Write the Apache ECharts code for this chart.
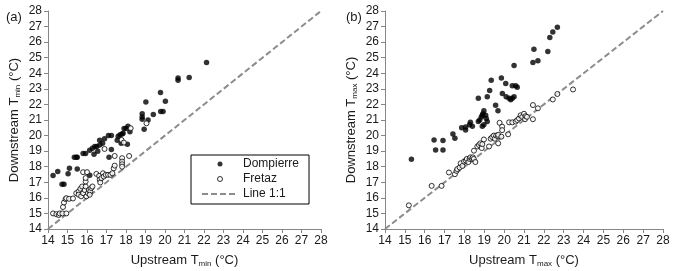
<!DOCTYPE html>
<html>
<head>
<meta charset="utf-8">
<script src="https://cdn.jsdelivr.net/npm/echarts@6/dist/echarts.min.js"></script>
<style>
html,body{margin:0;padding:0;background:#fff;}
#c{width:676px;height:271px;}
</style>
</head>
<body>
<div id="c"></div>
<script>
// ---- Data ----
var axisTicks = [14,15,16,17,18,19,20,21,22,23,24,25,26,27,28];
var lineOneToOne = [[14,14],[28,28]];

// Panel (a): Tmin
var aDompierre = [[14.26,17.43],[14.5,17.7],[14.72,16.88],[14.82,16.88],[15.03,17.55],[15.1,17.9],[15.35,18.6],[15.45,18.6],[15.5,18.6],[15.5,17.85],[15.8,18.85],[15.93,18.85],[16.14,17.45],[16.14,19.05],[16.28,19.18],[16.36,18.8],[16.4,19.3],[16.5,19.3],[16.55,19.0],[16.65,19.4],[16.65,19.7],[16.8,19.5],[16.9,19.8],[17.1,20.0],[17.13,18.6],[17.25,20.0],[17.25,19.1],[17.55,19.7],[17.6,19.95],[17.7,20.05],[17.75,19.5],[17.8,20.1],[17.85,20.15],[17.9,20.45],[18.0,20.45],[18.07,19.45],[18.1,20.6],[18.2,20.25],[18.83,21.4],[18.83,21.2],[18.83,21.05],[18.93,20.4],[19.02,22.15],[19.13,21.0],[19.4,21.35],[19.77,22.77],[19.78,21.55],[19.9,21.55],[20.02,22.2],[20.67,23.7],[20.67,23.55],[21.24,23.73],[22.13,24.7]];
var aFretaz = [[14.26,15.0],[14.43,14.95],[14.55,14.9],[14.6,15.0],[14.74,15.0],[14.94,15.0],[14.77,15.41],[14.82,15.7],[14.9,15.92],[14.94,15.98],[15.08,15.94],[15.28,15.96],[15.45,16.3],[15.57,16.41],[15.66,16.58],[15.75,16.73],[15.57,16.2],[15.7,16.1],[15.8,16.3],[15.88,16.5],[15.93,16.73],[15.93,17.05],[15.93,17.27],[15.97,16.1],[16.05,16.3],[16.1,16.5],[16.17,16.41],[16.22,16.63],[16.28,16.73],[16.14,16.2],[15.8,17.65],[16.0,17.65],[16.48,17.54],[16.62,17.41],[16.65,17.16],[16.68,16.99],[16.74,17.27],[16.82,17.58],[16.86,17.37],[16.96,17.48],[17.08,17.48],[17.2,17.48],[17.3,17.58],[17.37,17.9],[17.42,18.07],[16.9,19.14],[17.42,18.69],[17.8,18.55],[17.8,18.33],[17.8,18.16],[17.8,18.0],[17.77,19.72],[17.89,19.55],[18.16,18.69],[18.24,20.47],[19.05,20.79]];

// Panel (b): Tmax
var bDompierre = [[15.33,18.48],[16.47,19.72],[16.55,19.08],[16.92,19.68],[16.92,19.08],[17.42,20.1],[17.52,19.83],[17.86,20.5],[18.06,20.35],[18.06,20.55],[18.26,20.7],[18.3,20.85],[18.4,20.6],[18.7,22.4],[18.7,20.9],[18.77,21.0],[18.85,21.2],[18.9,21.3],[18.93,21.4],[18.98,21.6],[18.9,20.6],[18.98,20.7],[19.07,21.3],[19.1,21.1],[19.15,20.9],[19.15,22.5],[19.27,22.9],[19.35,23.55],[19.57,21.95],[19.69,21.6],[19.86,23.7],[19.91,22.7],[20.08,23.35],[20.1,22.5],[20.25,22.4],[20.33,22.3],[20.41,22.4],[20.5,22.5],[20.41,23.2],[20.58,23.2],[20.66,23.1],[20.5,24.5],[21.45,24.7],[21.5,25.55],[21.7,24.8],[22.2,25.4],[22.3,26.3],[22.45,26.65],[22.68,26.95]];
var bFretaz = [[15.2,15.52],[16.35,16.77],[16.85,16.77],[17.22,17.63],[17.52,17.52],[17.6,17.73],[17.64,17.85],[17.76,17.95],[17.81,18.22],[17.9,18.05],[17.98,18.33],[18.07,18.4],[18.12,18.5],[18.2,18.3],[18.26,18.5],[18.3,18.6],[18.38,18.5],[18.42,18.6],[18.47,18.5],[18.55,18.3],[18.48,19.03],[18.65,19.3],[18.73,19.4],[18.8,19.5],[18.87,19.2],[18.9,19.45],[18.98,19.75],[19.24,19.3],[19.32,19.8],[19.4,19.9],[19.48,20.0],[19.53,19.8],[19.6,20.0],[19.69,19.95],[19.7,19.5],[19.7,20.05],[19.77,20.82],[19.9,20.57],[19.9,20.35],[19.86,19.93],[20.2,20.08],[20.25,20.85],[20.41,20.85],[20.58,20.9],[20.66,21.0],[20.75,21.1],[20.83,21.3],[20.91,21.2],[21.0,21.4],[21.05,21.05],[21.08,21.25],[21.15,21.2],[21.45,21.96],[21.45,21.05],[21.7,21.75],[22.45,22.32],[22.68,22.67],[23.47,22.96]];

var panelLabels = ['(a)','(b)'];
var seriesNames = ['Dompierre','Fretaz','Line 1:1'];

// ---- Chart ----
var FONT = 'Liberation Sans, Arial, sans-serif';
var AXIS_GRAY = '#868686';
var TXT = '#1a1a1a';

function richName(pre, sub, post){
  return '{m|' + pre + '}{s|' + sub + '}{m|' + post + '}';
}
var nameRich = {
  m: {fontSize: 13, fontFamily: FONT, color: TXT, lineHeight: 16, verticalAlign: 'bottom'},
  s: {fontSize: 8, fontFamily: FONT, color: TXT, lineHeight: 12, verticalAlign: 'bottom', padding: [0,0,-1,0]}
};

function makeXAxis(gi, sub){
  return {
    type: 'value', gridIndex: gi, min: axisTicks[0], max: axisTicks[axisTicks.length-1], interval: 1,
    name: richName('Upstream T', sub, ' (°C)'), nameLocation: 'middle', nameGap: 22,
    nameTextStyle: {rich: nameRich},
    axisLine: {show: true, onZero: false, lineStyle: {color: AXIS_GRAY, width: 1}},
    axisTick: {show: true, length: 4, lineStyle: {color: AXIS_GRAY}},
    axisLabel: {fontSize: 12, fontFamily: FONT, color: TXT, margin: 6},
    splitLine: {show: false}
  };
}
function makeYAxis(gi, sub){
  return {
    type: 'value', gridIndex: gi, min: axisTicks[0], max: axisTicks[axisTicks.length-1], interval: 1,
    name: richName('Downstream T', sub, ' (°C)'), nameLocation: 'middle', nameGap: 27,
    nameTextStyle: {rich: nameRich},
    axisLine: {show: true, onZero: false, lineStyle: {color: AXIS_GRAY, width: 1}},
    axisTick: {show: true, length: 4, lineStyle: {color: AXIS_GRAY}},
    axisLabel: {fontSize: 12, fontFamily: FONT, color: TXT, margin: 6},
    splitLine: {show: false}
  };
}

var filledStyle = {color: '#000', borderColor: '#000', borderWidth: 0};
var openStyle = {color: '#fff', borderColor: '#000', borderWidth: 1};
var lineStyle11 = {color: '#8c8c8c', width: 2, type: [6,3]};

function scatter(name, data, gi, style, size){
  return {
    name: name, type: 'scatter', xAxisIndex: gi, yAxisIndex: gi, data: data,
    symbol: 'circle', symbolSize: size, itemStyle: style, silent: true, animation: false
  };
}
function oneLine(gi){
  return {
    name: seriesNames[2], type: 'line', xAxisIndex: gi, yAxisIndex: gi, data: lineOneToOne,
    showSymbol: false, symbol: 'none', lineStyle: lineStyle11, itemStyle: {color: '#8c8c8c'},
    silent: true, animation: false, z: 1
  };
}

var chart = echarts.init(document.getElementById('c'), null, {renderer: 'canvas'});
chart.setOption({
  animation: false,
  backgroundColor: '#fff',
  textStyle: {fontFamily: FONT},
  title: [
    {text: panelLabels[0], left: 6, top: 11, textStyle: {fontSize: 13, fontWeight: 'normal', color: TXT, fontFamily: FONT}, padding: 0},
    {text: panelLabels[1], left: 346, top: 11, textStyle: {fontSize: 13, fontWeight: 'normal', color: TXT, fontFamily: FONT}, padding: 0}
  ],
  legend: {
    data: [
      {name: seriesNames[0], itemStyle: {color: '#000', borderWidth: 0}},
      {name: seriesNames[1], itemStyle: {color: '#fff', borderColor: '#000', borderWidth: 1}},
      {name: seriesNames[2], itemStyle: {opacity: 0}}
    ],
    orient: 'vertical',
    left: 191, top: 155,
    itemWidth: 36, itemHeight: 5, itemGap: 1,
    padding: [2, 10, 3, 10],
    borderColor: '#000', borderWidth: 1,
    backgroundColor: '#fff',
    textStyle: {fontSize: 12, fontFamily: FONT, color: TXT, lineHeight: 14},
    selectedMode: false
  },
  grid: [
    {left: 48, right: 355, top: 11, bottom: 42, outerBoundsMode: 'none'},
    {left: 385, right: 13, top: 11, bottom: 42, outerBoundsMode: 'none'}
  ],
  xAxis: [makeXAxis(0, 'min'), makeXAxis(1, 'max')],
  yAxis: [makeYAxis(0, 'min'), makeYAxis(1, 'max')],
  series: [
    oneLine(0),
    scatter(seriesNames[0], aDompierre, 0, filledStyle, 5.5),
    scatter(seriesNames[1], aFretaz, 0, openStyle, 5),
    oneLine(1),
    scatter(seriesNames[0], bDompierre, 1, filledStyle, 5.5),
    scatter(seriesNames[1], bFretaz, 1, openStyle, 5)
  ]
});
</script>
</body>
</html>
